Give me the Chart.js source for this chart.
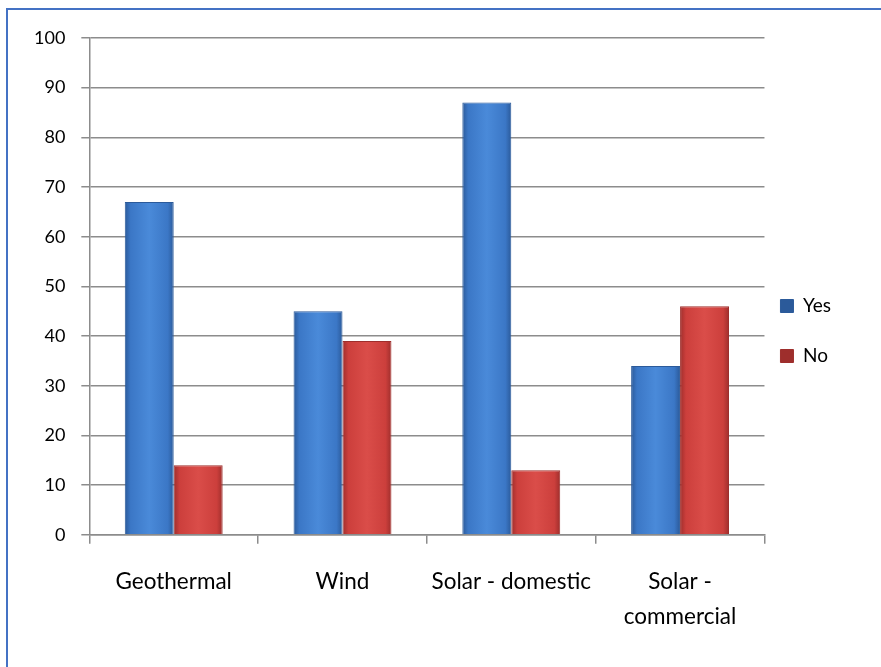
<!DOCTYPE html>
<html>
<head>
<meta charset="utf-8">
<script src="https://cdn.jsdelivr.net/npm/chart.js@4.4.1/dist/chart.umd.min.js"></script>
<style>
    html, body { margin: 0; padding: 0; background: #ffffff; }
    body { width: 881px; height: 667px; position: relative; overflow: hidden; }
    #frame {
        position: absolute; left: 6px; top: 8px;
        width: 900px; height: 700px;
        border: 2px solid #4472c4;
        box-sizing: border-box;
    }
    #wrap { position: absolute; left: 0; top: 0; width: 881px; height: 667px; }
</style>
</head>
<body>
<div id="frame"></div>
<div id="wrap"><canvas id="energyChart"></canvas></div>
<script>
// Survey data
const categories = ['Geothermal', 'Wind', 'Solar - domestic', ['Solar -', 'commercial']];
const yesValues = [67, 45, 87, 34];
const noValues = [14, 39, 13, 46];
const yTicks = { min: 0, max: 100, step: 10 };

const colors = {
    blue: '#3b77c6',
    blueEdge: '#2b5a9a',
    blueLight: '#4a8ad9',
    red: '#cc3f3c',
    redEdge: '#9e2e2c',
    redLight: '#da4d49',
    grid: '#8c8c8c',
    text: '#000000'
};

// horizontal shading across each bar, like the bevelled office bars
function barShade(base, edge, light) {
    return function(context) {
        const chart = context.chart;
        const meta = chart.getDatasetMeta(context.datasetIndex);
        const bar = meta.data[context.dataIndex];
        if (!bar || bar.x === undefined || isNaN(bar.x)) return base;
        const half = bar.width / 2;
        const g = chart.ctx.createLinearGradient(bar.x - half, 0, bar.x + half, 0);
        g.addColorStop(0, edge);
        g.addColorStop(0.12, base);
        g.addColorStop(0.5, light);
        g.addColorStop(0.88, base);
        g.addColorStop(1, edge);
        return g;
    };
}

// pull the legend a little closer to the plot, it keeps its wide spacing
const legendNudge = {
    id: 'legendNudge',
    afterLayout(chart) {
        const lg = chart.legend;
        if (!lg) return;
        lg.left -= 15;
        lg.right -= 15;
        lg.top -= 15;
        lg.bottom -= 15;
    }
};

Chart.defaults.font.family = "Lato, 'Open Sans', sans-serif";
Chart.defaults.color = colors.text;

const chart = new Chart(document.getElementById('energyChart'), {
    type: 'bar',
    data: {
        labels: categories,
        datasets: [
            {
                label: 'Yes',
                data: yesValues,
                backgroundColor: barShade(colors.blue, colors.blueEdge, colors.blueLight),
                borderColor: colors.blueEdge,
                borderWidth: 1,
                categoryPercentage: 0.58,
                barPercentage: 1
            },
            {
                label: 'No',
                data: noValues,
                backgroundColor: barShade(colors.red, colors.redEdge, colors.redLight),
                borderColor: colors.redEdge,
                borderWidth: 1,
                categoryPercentage: 0.58,
                barPercentage: 1
            }
        ]
    },
    options: {
        responsive: true,
        maintainAspectRatio: false,
        animation: false,
        layout: {
            padding: { left: 18, top: 38, right: 25, bottom: 13 }
        },
        scales: {
            x: {
                grid: {
                    offset: true,
                    drawOnChartArea: false,
                    drawTicks: true,
                    tickLength: 9,
                    color: colors.grid,
                    lineWidth: 1.5
                },
                border: { color: colors.grid, width: 1.5 },
                ticks: {
                    font: { size: 22.5, lineHeight: 1.56 },
                    padding: 20,
                    maxRotation: 0,
                    autoSkip: false
                }
            },
            y: {
                min: yTicks.min,
                max: yTicks.max,
                grid: {
                    color: colors.grid,
                    lineWidth: 1.5,
                    tickLength: 8
                },
                border: { color: colors.grid, width: 1.5 },
                ticks: {
                    stepSize: yTicks.step,
                    font: { size: 18 },
                    padding: 16
                }
            }
        },
        plugins: {
            legend: {
                position: 'right',
                align: 'center',
                labels: {
                    boxWidth: 13,
                    boxHeight: 13,
                    padding: 31,
                    font: { size: 19 }
                }
            },
            tooltip: { enabled: false }
        }
    },
    plugins: [legendNudge]
});

// second pass so the bar gradients know where each bar sits
chart.update();
</script>
</body>
</html>
